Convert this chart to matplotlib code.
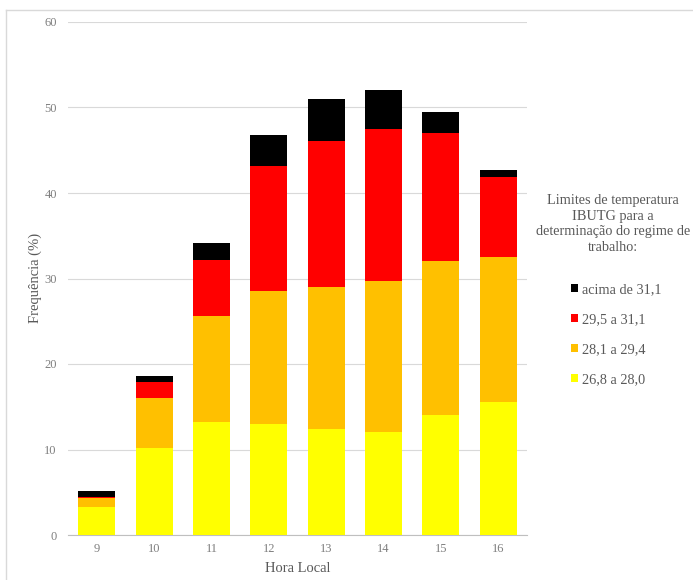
import matplotlib
matplotlib.use("Agg")
import matplotlib.pyplot as plt
from matplotlib.patches import Patch
from matplotlib.lines import Line2D
import numpy as np

plt.rcParams['font.family'] = ['Liberation Serif', 'DejaVu Serif']

hours = ["9", "10", "11", "12", "13", "14", "15", "16"]
faixa_268_280 = [3.3, 10.2, 13.2, 13.0, 12.4, 12.1, 14.0, 15.6]
faixa_281_294 = [1.0, 5.8, 12.4, 15.5, 16.6, 17.6, 18.0, 16.9]
faixa_295_311 = [0.2, 1.9, 6.6, 14.7, 17.1, 17.8, 15.0, 9.4]
acima_311 = [0.6, 0.7, 1.9, 3.6, 4.9, 4.5, 2.5, 0.75]

series = [
    ("26,8 a 28,0", faixa_268_280, "#FFFF00"),
    ("28,1 a 29,4", faixa_281_294, "#FFC000"),
    ("29,5 a 31,1", faixa_295_311, "#FF0000"),
    ("acima de 31,1", acima_311, "#000000"),
]

W, H = 693, 580
fig = plt.figure(figsize=(W / 100, H / 100), dpi=100)
ax = fig.add_axes([68 / W, 1 - 535 / H, (527 - 68) / W, (535 - 22) / H])

x = np.arange(len(hours))
bottom = np.zeros(len(hours))
handles = []
for label, vals, color in series:
    vals = np.array(vals)
    ax.bar(x, vals, bottom=bottom, width=0.645, color=color, zorder=3)
    bottom += vals
    handles.append(Patch(facecolor=color, label=label))

ax.set_xlim(-0.5, len(hours) - 0.5)
ax.set_ylim(0, 60)
ax.set_yticks(range(0, 61, 10))
ax.set_xticks(x)
ax.set_xticklabels(hours)
ax.yaxis.grid(True, color="#D9D9D9", linewidth=0.8, zorder=0)
ax.set_axisbelow(True)
for side in ["top", "right", "left"]:
    ax.spines[side].set_visible(False)
ax.spines["bottom"].set_color("#BFBFBF")
ax.spines["bottom"].set_linewidth(0.8)
ax.tick_params(axis="both", length=0, labelsize=9, labelcolor="#7F7F7F")
ax.tick_params(axis="y", pad=8)
ax.tick_params(axis="x", pad=6)

ax.set_xlabel("Hora Local", fontsize=10.5, color="#595959", labelpad=5)
fig.text(35 / W, 1 - 278 / H, "Frequência (%)", rotation=90, fontsize=10.5,
         color="#595959", ha="center", va="center")

# legend title and entries
fig.text(613 / W, 1 - 224 / H,
         "Limites de temperatura\nIBUTG para a\ndeterminação do regime de\ntrabalho:",
         ha="center", va="center", fontsize=10.3, color="#595959",
         multialignment="center", linespacing=1.27)
leg = fig.legend(handles=handles[::-1], loc="upper left",
                 bbox_to_anchor=(571 / W, 1 - 283 / H), frameon=False,
                 fontsize=10.3, handlelength=0.5, handleheight=0.5,
                 handletextpad=0.3, labelspacing=1.2, borderaxespad=0,
                 borderpad=0)
for t in leg.get_texts():
    t.set_color("#595959")

# outer border (top and left edges)
fig.add_artist(Line2D([6 / W, 1], [1 - 10 / H, 1 - 10 / H], color="#D9D9D9",
                      linewidth=1, transform=fig.transFigure))
fig.add_artist(Line2D([6 / W, 6 / W], [0, 1 - 10 / H], color="#D9D9D9",
                      linewidth=1, transform=fig.transFigure))

fig.savefig("out.png", dpi=100, facecolor="white")
